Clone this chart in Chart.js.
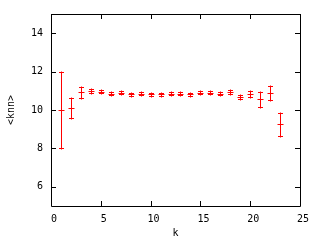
<!DOCTYPE html>
<html>
<head>
<meta charset="utf-8">
<script src="https://cdn.jsdelivr.net/npm/chart.js@4/dist/chart.umd.min.js"></script>
<style>
  html, body { margin: 0; padding: 0; background: #fff; }
  canvas { display: block; }
</style>
</head>
<body>
<canvas id="graphe" width="320" height="240"></canvas>
<script>
// Données
const valeursK = [1, 2, 3, 4, 5, 6, 7, 8, 9, 10, 11, 12, 13, 14, 15, 16, 17, 18, 19, 20, 21, 22, 23];
const valeursKnn = [10.0, 10.1, 10.93, 10.98, 10.96, 10.85, 10.9, 10.83, 10.85, 10.81, 10.83, 10.85,
                    10.85, 10.83, 10.9, 10.9, 10.85, 10.95, 10.67, 10.83, 10.55, 10.9, 9.26];
const erreursKnn = [2.0, 0.53, 0.28, 0.12, 0.09, 0.08, 0.09, 0.08, 0.08, 0.08, 0.08, 0.08,
                    0.08, 0.08, 0.09, 0.09, 0.08, 0.11, 0.12, 0.17, 0.38, 0.36, 0.6];
const ticksX = [0, 5, 10, 15, 20, 25];
const ticksY = [6, 8, 10, 12, 14];

const ROUGE = '#ff0000';
const POLICE = { family: '"DejaVu Sans Mono", monospace', size: 10 };

// Cadre, graduations vers l'intérieur et barres d'erreur (style gnuplot)
const pluginGnuplot = {
    id: 'gnuplot',
    beforeDraw(chart) {
        const ctx = chart.ctx;
        ctx.save();
        ctx.fillStyle = '#fff';
        ctx.fillRect(0, 0, chart.width, chart.height);
        ctx.restore();
    },
    afterDatasetsDraw(chart) {
        const { ctx, chartArea: zone, scales: { x, y } } = chart;
        const px = v => Math.round(v) + 0.5;

        ctx.save();
        ctx.lineWidth = 1;
        ctx.strokeStyle = '#000';
        ctx.beginPath();
        ctx.rect(px(zone.left), px(zone.top), Math.round(zone.right) - Math.round(zone.left), Math.round(zone.bottom) - Math.round(zone.top));
        ticksX.forEach(v => {
            const xp = px(x.getPixelForValue(v));
            ctx.moveTo(xp, zone.bottom); ctx.lineTo(xp, zone.bottom - 5);
            ctx.moveTo(xp, zone.top); ctx.lineTo(xp, zone.top + 5);
        });
        ticksY.forEach(v => {
            const yp = px(y.getPixelForValue(v));
            ctx.moveTo(zone.left, yp); ctx.lineTo(zone.left + 5, yp);
            ctx.moveTo(zone.right, yp); ctx.lineTo(zone.right - 5, yp);
        });
        ctx.stroke();

        // barres d'erreur + marque centrale (position calculée par Chart.js)
        const points = chart.getDatasetMeta(0).data;
        ctx.strokeStyle = ROUGE;
        ctx.beginPath();
        valeursK.forEach((k, i) => {
            const xp = px(points[i].x);
            const yc = px(points[i].y);
            const haut = px(y.getPixelForValue(valeursKnn[i] + erreursKnn[i]));
            const bas = px(y.getPixelForValue(valeursKnn[i] - erreursKnn[i]));
            ctx.moveTo(xp, haut - 1); ctx.lineTo(xp, bas + 1);
            ctx.moveTo(xp - 2.5, haut); ctx.lineTo(xp + 2.5, haut);
            ctx.moveTo(xp - 2.5, bas); ctx.lineTo(xp + 2.5, bas);
            ctx.moveTo(xp - 3, yc); ctx.lineTo(xp + 3, yc);
        });
        ctx.stroke();
        ctx.restore();
    }
};

new Chart(document.getElementById('graphe'), {
    type: 'scatter',
    data: {
        datasets: [{
            data: valeursK.map((k, i) => ({ x: k, y: valeursKnn[i] })),
            borderColor: ROUGE,
            backgroundColor: ROUGE,
            pointRadius: 0,
            borderWidth: 1
        }]
    },
    options: {
        responsive: false,
        animation: false,
        layout: { padding: { top: 13, right: 20, left: 0, bottom: 0 } },
        plugins: { legend: { display: false }, tooltip: { enabled: false } },
        scales: {
            x: {
                type: 'linear',
                min: 0,
                max: 25,
                afterFit: axe => { axe.height = 34; },
                afterBuildTicks: axe => { axe.ticks = ticksX.map(v => ({ value: v })); },
                grid: { display: false, drawTicks: false },
                border: { display: false },
                ticks: { color: '#000', font: POLICE, padding: 7, labelOffset: 3, maxRotation: 0, autoSkip: false },
                title: { display: true, text: 'k', color: '#000', font: POLICE, padding: { top: 0, bottom: 1 } }
            },
            y: {
                type: 'linear',
                min: 5,
                max: 15,
                afterFit: axe => { axe.width = 51; },
                afterBuildTicks: axe => { axe.ticks = ticksY.map(v => ({ value: v })); },
                grid: { display: false, drawTicks: false },
                border: { display: false },
                ticks: { color: '#000', font: POLICE, padding: 8 },
                title: { display: true, text: '<knn>', color: '#000', font: POLICE, padding: { top: 5, bottom: 0 } }
            }
        }
    },
    plugins: [pluginGnuplot]
});
</script>
</body>
</html>
